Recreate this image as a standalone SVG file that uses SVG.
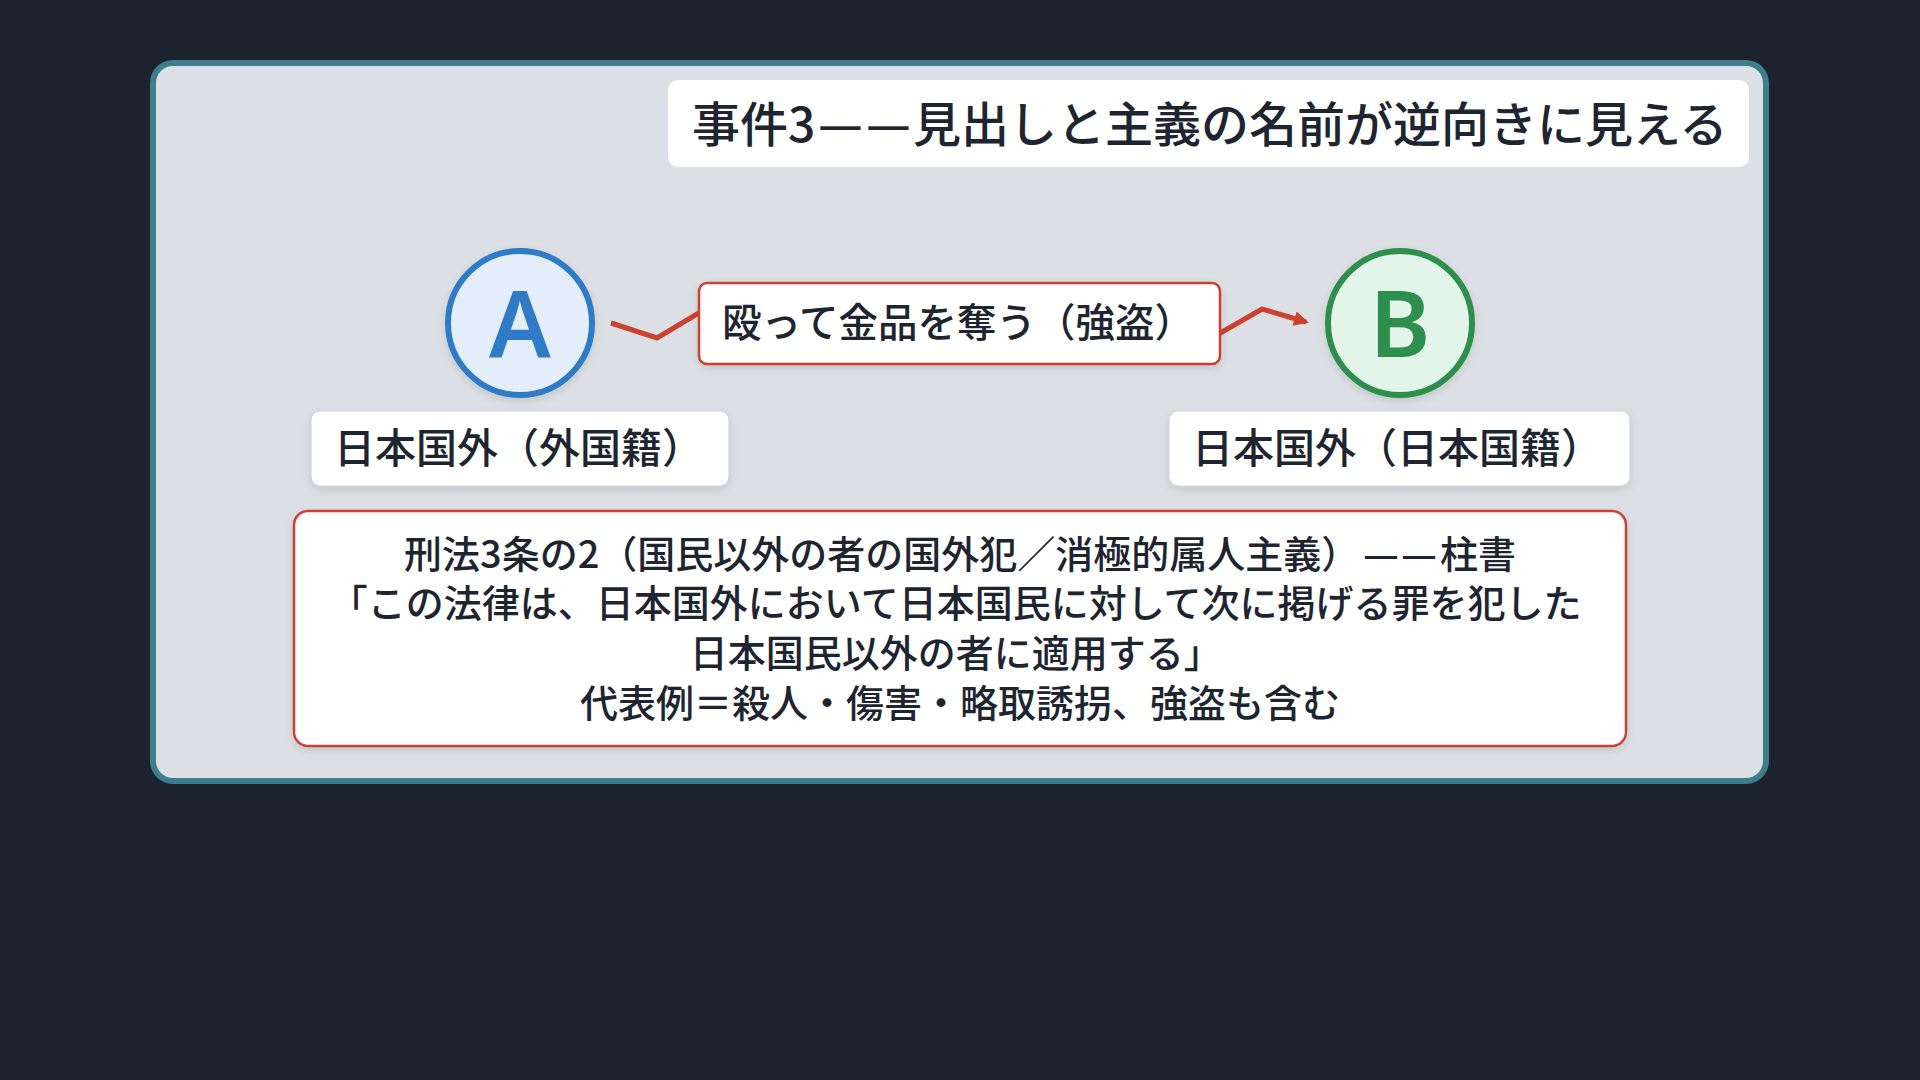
<svg xmlns="http://www.w3.org/2000/svg" width="1920" height="1080" viewBox="0 0 1920 1080">
<defs>
<style>
.jp{font-family:"Noto Sans CJK JP","Noto Sans",sans-serif;fill:#1e2430;font-weight:500}
.card{fill:#ffffff;stroke:#cfd6df;stroke-width:1.2}
.red{fill:#ffffff;stroke:#cc4130;stroke-width:2.5}
.edge{fill:none;stroke:#cc4130;stroke-width:5;stroke-linejoin:miter}
</style>
<filter id="sh" x="-20%" y="-20%" width="140%" height="150%">
<feDropShadow dx="0" dy="3" stdDeviation="4" flood-color="#000000" flood-opacity="0.12"/>
</filter>
<marker id="arr" viewBox="0 0 10 10" refX="8" refY="5" markerWidth="3" markerHeight="3" orient="auto" markerUnits="strokeWidth">
<path d="M0,0 L10,5 L0,10 z" fill="#cc4130"/>
</marker>
</defs>
<rect x="0" y="0" width="1920" height="1080" fill="#1d232e"/>
<rect id="frame" x="153" y="63" width="1613" height="718" rx="20" fill="#dcdfe4" stroke="#3e7d8c" stroke-width="6"/>

<g id="title" class="jp" font-size="48">
<rect x="668" y="80" width="1081" height="87" rx="10" fill="#ffffff"/>
<text class="jp" x="692" y="142">事件3</text>
<text class="jp" x="818" y="142" textLength="45" lengthAdjust="spacingAndGlyphs">—</text>
<text class="jp" x="866" y="142" textLength="45" lengthAdjust="spacingAndGlyphs">—</text>
<text class="jp" x="913" y="142">見出しと主義の名前が逆向きに見える</text>
</g>

<g id="connectors">
<path class="edge" d="M611,323 L657,338 L712,305 L1210,339 L1262,309 L1306,322" marker-end="url(#arr)"/>
<rect class="red" x="699" y="283" width="521" height="81" rx="8" filter="url(#sh)"/>
<text class="jp" x="722" y="337" font-size="39.5">殴って金品を奪う（強盗）</text>
</g>

<g id="nodeA">
<circle cx="520" cy="323" r="72" fill="#e3eefa" stroke="#2f7bc6" stroke-width="6" filter="url(#sh)"/>
<text x="520" y="357" text-anchor="middle" font-family="'Noto Sans',sans-serif" font-weight="600" font-size="92" fill="#2f7bc6">A</text>
</g>

<g id="nodeB">
<circle cx="1400" cy="323" r="72" fill="#e3f4e8" stroke="#2d8f4e" stroke-width="6" filter="url(#sh)"/>
<text x="1400" y="357" text-anchor="middle" font-family="'Noto Sans',sans-serif" font-weight="600" font-size="92" fill="#2d8f4e">B</text>
</g>

<g id="labelA">
<rect class="card" x="311" y="411" width="418" height="75" rx="9" filter="url(#sh)"/>
<text class="jp" x="334" y="463" font-size="41">日本国外（外国籍）</text>
</g>

<g id="labelB">
<rect class="card" x="1169" y="411" width="461" height="75" rx="9" filter="url(#sh)"/>
<text class="jp" x="1192" y="463" font-size="41">日本国外（日本国籍）</text>
</g>

<g id="law">
<rect class="red" x="294" y="511" width="1332" height="235" rx="14" filter="url(#sh)"/>
<text class="jp" x="404" y="568" font-size="38">刑法3条の2（国民以外の者の国外犯／消極的属人主義）</text>
<text class="jp" x="1363" y="568" font-size="38" textLength="36" lengthAdjust="spacingAndGlyphs">—</text>
<text class="jp" x="1401" y="568" font-size="38" textLength="36" lengthAdjust="spacingAndGlyphs">—</text>
<text class="jp" x="1440" y="568" font-size="38">柱書</text>
<text class="jp" text-anchor="middle" font-size="38">
<tspan x="960" y="617">「この法律は、日本国外において日本国民に対して次に掲げる罪を犯した</tspan>
<tspan x="960" y="667">日本国民以外の者に適用する」</tspan>
<tspan x="960" y="717">代表例＝殺人・傷害・略取誘拐、強盗も含む</tspan>
</text>
</g>
</svg>
